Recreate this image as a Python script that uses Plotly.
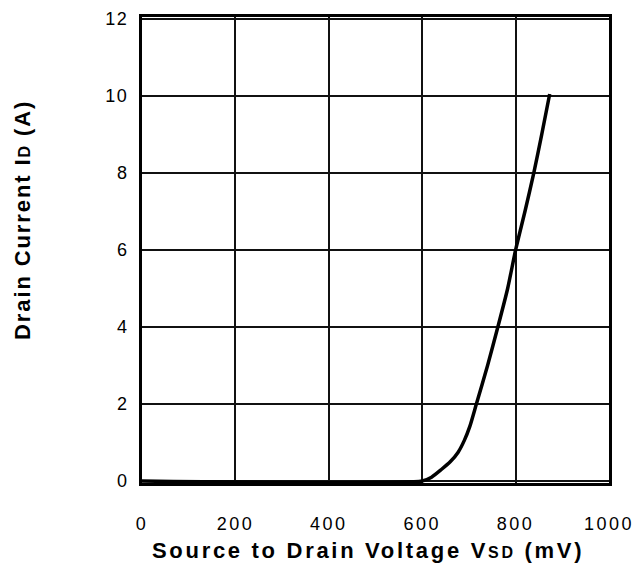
import plotly.graph_objects as go

# Data
vsd_mv = [0, 600, 620, 641, 660, 677, 690, 702, 716, 740, 762, 783, 800, 820, 839, 856, 873]
id_a = [0, 0, 0.10, 0.30, 0.50, 0.75, 1.05, 1.42, 2.0, 3.0, 4.0, 5.0, 6.0, 7.0, 8.0, 9.0, 10.05]

x_ticks = [0, 200, 400, 600, 800, 1000]
y_ticks = [0, 2, 4, 6, 8, 10, 12]

x_title = "Source to Drain Voltage V<span style='font-size:16px'>SD</span> (mV)"
y_title = "Drain Current I<span style='font-size:16px'>D</span> (A)"


def spaced(s, px):
    return "<span style='letter-spacing:%spx'>%s</span>" % (px, s)


font_main = "Arial, Liberation Sans, sans-serif"

# The page body has an 8px margin, so the figure is drawn 8px in and 8px down.
OFF = 8
W, H = 641 - OFF, 569 - OFF
PL, PR, PT, PB = 142 - OFF, 609 - OFF, 17 - OFF, 483 - OFF  # plot area in figure px
pw, ph = PR - PL, PB - PT


def px_x(x):
    return (x - OFF - PL) / pw


def px_y(y):
    return (PB - (y - OFF)) / ph


fig = go.Figure()
fig.add_trace(go.Scatter(
    x=vsd_mv, y=id_a, mode="lines",
    line=dict(color="black", width=3.5, shape="spline", smoothing=0.6),
    hoverinfo="skip", showlegend=False,
))

fig.update_layout(
    width=W, height=H,
    margin=dict(l=PL, r=W - PR, t=PT, b=H - PB, pad=0),
    paper_bgcolor="white", plot_bgcolor="white",
    font=dict(family=font_main, color="black"),
    xaxis=dict(
        range=[0, 1000], tickvals=x_ticks,
        ticktext=[spaced(str(v), 2.5) for v in x_ticks],
        showgrid=True, gridcolor="#111", gridwidth=1.8,
        showline=True, linecolor="black", linewidth=3, mirror=True,
        zeroline=False, ticks="", ticklabelstandoff=22, automargin=False,
        tickfont=dict(size=18, family=font_main, color="black"),
        fixedrange=True,
    ),
    yaxis=dict(
        range=[-0.05, 12.05], tickvals=y_ticks,
        ticktext=[spaced(str(v), 1.5) for v in y_ticks],
        showgrid=True, gridcolor="#111", gridwidth=1.8,
        showline=True, linecolor="black", linewidth=3, mirror=True,
        zeroline=False, ticks="", ticklabelstandoff=7, automargin=False,
        tickfont=dict(size=18, family=font_main, color="black"),
        fixedrange=True,
    ),
    annotations=[
        dict(text=spaced(x_title, 2.7), xref="paper", yref="paper",
             x=px_x(368), y=px_y(550),
             xanchor="center", yanchor="middle", showarrow=False,
             font=dict(size=22, family=font_main, color="black", weight="bold")),
        dict(text=spaced(y_title, 1.9), xref="paper", yref="paper",
             x=px_x(22), y=px_y(220),
             xanchor="center", yanchor="middle", showarrow=False, textangle=-90,
             font=dict(size=22, family=font_main, color="black", weight="bold")),
    ],
)

fig.write_html("out.html")
